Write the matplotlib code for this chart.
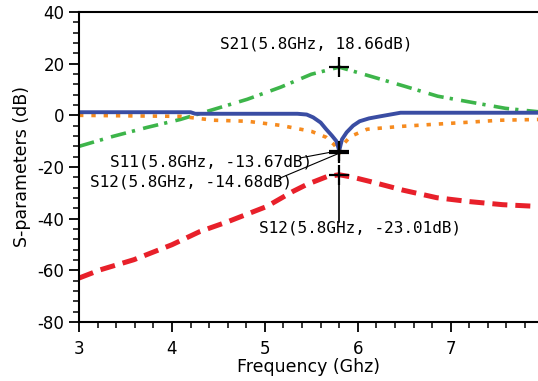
import matplotlib.pyplot as plt
from matplotlib.ticker import MultipleLocator

# data (GHz, dB)
f_s21 = [3.0, 3.36, 3.73, 4.09, 4.45, 4.81, 5.17, 5.5, 5.8, 6.14, 6.5, 6.86, 7.23, 7.59, 7.99]
s21 = [-12.0, -8.2, -4.7, -1.6, 2.3, 6.2, 10.9, 15.9, 18.66, 15.1, 11.3, 7.4, 5.0, 2.7, 1.2]

f_s11 = [3.0, 4.2, 4.25, 5.35, 5.45, 5.52, 5.6, 5.66, 5.72, 5.77, 5.8, 5.83, 5.88, 5.95, 6.02, 6.12, 6.24, 6.46, 8.0]
s11 = [1.2, 1.2, 0.6, 0.6, 0.3, -0.8, -2.8, -5.4, -7.8, -10.0, -13.67, -9.3, -6.6, -4.0, -2.3, -1.2, -0.4, 1.0, 1.0]

f_s22 = [3.0, 3.5, 4.09, 4.45, 4.81, 5.17, 5.5, 5.66, 5.75, 5.8, 5.85, 5.92, 6.1, 6.46, 6.81, 7.18, 7.53, 7.95]
s22 = [0.0, -0.2, -0.4, -1.9, -2.3, -3.9, -6.2, -8.5, -11.5, -14.68, -11.0, -8.2, -5.4, -4.3, -3.5, -2.7, -1.9, -1.6]

f_s12 = [3.0, 3.23, 3.59, 4.0, 4.3, 4.6, 5.02, 5.3, 5.45, 5.67, 5.8, 5.95, 6.13, 6.49, 6.85, 7.2, 7.56, 7.95]
s12 = [-63.0, -59.8, -55.9, -50.1, -45.0, -41.2, -35.3, -29.5, -26.8, -23.7, -23.01, -24.0, -25.6, -29.0, -31.9, -33.4, -34.6, -35.3]

plt.rcParams['axes.unicode_minus'] = False

fig = plt.figure(figsize=(5.38, 3.81), dpi=100)
ax = fig.add_axes([0.147, 0.155, 0.853, 0.8135])

ax.plot(f_s21, s21, color='#3DB54A', lw=2.6, dashes=(4.3, 1.7, 0.9, 2.3))
ax.plot(f_s22, s22, color='#F68B1F', lw=2.6, dashes=(1.2, 2.2))
ax.plot(f_s11, s11, color='#3A4DA3', lw=2.8)
ax.plot(f_s12, s12, color='#E8202A', lw=3.6, dashes=(3.0, 1.6))

# markers
ax.plot([5.8, 5.8, 5.8, 5.8], [18.66, -13.67, -14.68, -23.01], ls='none',
        marker='+', ms=14, mew=1.6, color='black')

mono = 'DejaVu Sans Mono'
ax.text(5.55, 27.6, 'S21(5.8GHz, 18.66dB)', fontsize=11.5, family=mono,
        ha='center', va='center')
ax.text(4.42, -17.9, 'S11(5.8GHz, -13.67dB)', fontsize=11.5, family=mono,
        ha='center', va='center')
ax.text(4.2, -26.0, 'S12(5.8GHz, -14.68dB)', fontsize=11.5, family=mono,
        ha='center', va='center')
ax.text(6.02, -43.5, 'S12(5.8GHz, -23.01dB)', fontsize=11.5, family=mono,
        ha='center', va='center')
ax.plot([5.38, 5.8], [-16.5, -13.67], color='black', lw=0.8)
ax.plot([5.15, 5.8], [-24.5, -14.68], color='black', lw=0.8)
ax.plot([5.8, 5.8], [-23.01, -41.2], color='black', lw=1.2)

ax.set_xlim(3, 7.94)
ax.set_ylim(-80, 40)
ax.xaxis.set_major_locator(MultipleLocator(1))
ax.xaxis.set_minor_locator(MultipleLocator(0.2))
ax.yaxis.set_major_locator(MultipleLocator(20))
ax.yaxis.set_minor_locator(MultipleLocator(4))
ax.tick_params(which='major', direction='out', length=7, width=1.3, labelsize=12)
ax.tick_params(axis='x', which='major', pad=6)
ax.tick_params(which='minor', direction='out', length=4, width=1.1)
ax.spines['right'].set_visible(False)
for s in ['left', 'bottom', 'top']:
    ax.spines[s].set_linewidth(1.5)

ax.set_xlabel('Frequency (Ghz)', fontsize=12.5, labelpad=0)
ax.set_ylabel('S-parameters (dB)', fontsize=12.5, labelpad=5)

fig.savefig('out.png', dpi=100)
